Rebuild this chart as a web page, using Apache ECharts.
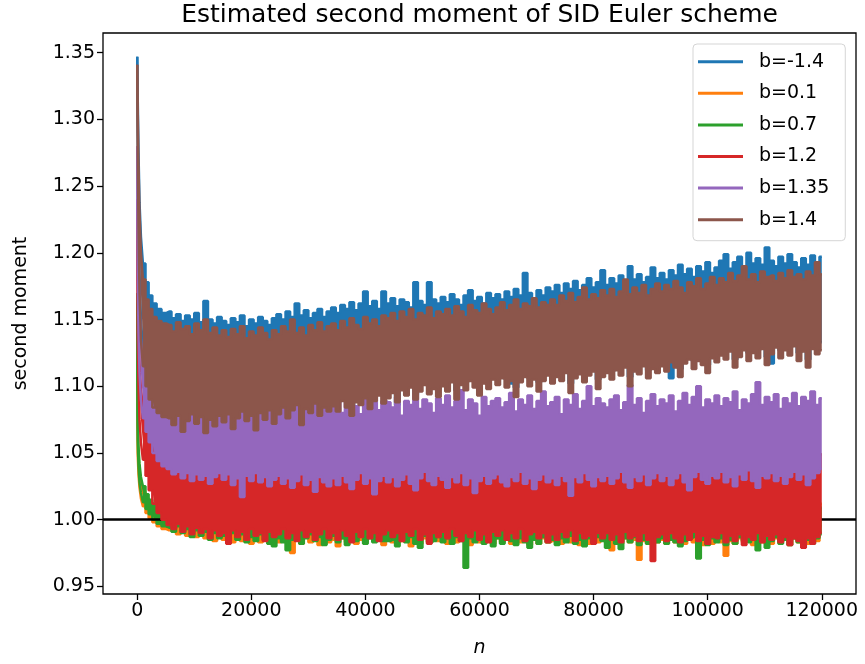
<!DOCTYPE html>
<html>
<head>
<meta charset="utf-8">
<script src="https://cdn.jsdelivr.net/npm/echarts@6/dist/echarts.min.js"></script>
<style>
  html, body { margin: 0; padding: 0; background: #fff; }
  #chart { width: 865px; height: 664px; }
</style>
</head>
<body>
<div id="chart"></div>
<script>
  // n grid: a few dense samples for the start-up transient, then one every 800 steps up to 120000
  const headSteps = [0, 150, 300, 500, 800, 1200, 1700, 2300, 3000, 3800, 4700];
  const bodyStart = 5600, bodyStep = 800, bodyCount = 144;

  const seriesNames = ['b=-1.4', 'b=0.1', 'b=0.7', 'b=1.2', 'b=1.35', 'b=1.4'];
  const xTicks = [0, 20000, 40000, 60000, 80000, 100000, 120000];
  const yTicks = [0.95, 1.00, 1.05, 1.10, 1.15, 1.20, 1.25, 1.30, 1.35];
  const refLevel = 1.0;

  // upper / lower envelope of each noisy estimate (max and min inside every sample bin)
  const blueHi = [1.347, 1.320, 1.275, 1.238, 1.212, 1.192, 1.178, 1.168, 1.162, 1.158, 1.155,
    1.156, 1.151, 1.154, 1.149, 1.153, 1.150, 1.155, 1.148, 1.164, 1.150, 1.147, 1.152,
    1.149, 1.146, 1.151, 1.148, 1.153, 1.145, 1.150, 1.147, 1.152, 1.149, 1.146, 1.151,
    1.154, 1.150, 1.156, 1.152, 1.162, 1.153, 1.157, 1.151, 1.155, 1.158, 1.152, 1.156,
    1.159, 1.155, 1.161, 1.158, 1.163, 1.157, 1.162, 1.171, 1.160, 1.164, 1.158, 1.171,
    1.162, 1.166, 1.160, 1.165, 1.163, 1.159, 1.178, 1.164, 1.161, 1.178, 1.165, 1.162,
    1.167, 1.163, 1.169, 1.165, 1.161, 1.168, 1.172, 1.164, 1.167, 1.162, 1.170, 1.166,
    1.169, 1.165, 1.171, 1.167, 1.173, 1.168, 1.185, 1.170, 1.166, 1.172, 1.168, 1.174,
    1.171, 1.176, 1.170, 1.177, 1.173, 1.179, 1.172, 1.176, 1.181, 1.174, 1.178, 1.187,
    1.176, 1.181, 1.177, 1.183, 1.179, 1.190, 1.180, 1.184, 1.178, 1.182, 1.189, 1.181,
    1.185, 1.180, 1.187, 1.183, 1.191, 1.184, 1.188, 1.182, 1.190, 1.186, 1.193, 1.185,
    1.189, 1.194, 1.199, 1.188, 1.193, 1.197, 1.190, 1.200, 1.192, 1.196, 1.191, 1.204,
    1.194, 1.190, 1.197, 1.192, 1.199, 1.193, 1.189, 1.196, 1.191, 1.198, 1.193, 1.197];
  const blueLo = [1.347, 1.290, 1.235, 1.185, 1.150, 1.128, 1.112, 1.100, 1.093, 1.088, 1.085,
    1.082, 1.079, 1.084, 1.076, 1.081, 1.085, 1.078, 1.083, 1.075, 1.081, 1.077, 1.084,
    1.080, 1.085, 1.077, 1.083, 1.087, 1.080, 1.084, 1.076, 1.086, 1.081, 1.088, 1.079,
    1.086, 1.090, 1.083, 1.078, 1.092, 1.081, 1.089, 1.086, 1.093, 1.085, 1.090, 1.087,
    1.091, 1.088, 1.095, 1.090, 1.086, 1.094, 1.092, 1.097, 1.089, 1.095, 1.099, 1.093,
    1.097, 1.101, 1.086, 1.103, 1.099, 1.105, 1.094, 1.102, 1.107, 1.100, 1.104, 1.098,
    1.106, 1.102, 1.109, 1.097, 1.107, 1.103, 1.110, 1.105, 1.100, 1.108, 1.104, 1.111,
    1.107, 1.112, 1.105, 1.102, 1.099, 1.109, 1.113, 1.106, 1.111, 1.103, 1.110, 1.114,
    1.108, 1.113, 1.110, 1.116, 1.102, 1.112, 1.115, 1.109, 1.114, 1.117, 1.105, 1.113,
    1.116, 1.111, 1.118, 1.114, 1.120, 1.107, 1.117, 1.115, 1.121, 1.112, 1.119, 1.116,
    1.121, 1.117, 1.106, 1.120, 1.113, 1.123, 1.126, 1.119, 1.125, 1.122, 1.116, 1.127,
    1.124, 1.129, 1.126, 1.132, 1.120, 1.128, 1.133, 1.125, 1.131, 1.127, 1.134, 1.122,
    1.117, 1.135, 1.127, 1.133, 1.129, 1.136, 1.125, 1.132, 1.120, 1.134, 1.130, 1.133];

  const orangeHi = [1.150, 1.070, 1.048, 1.036, 1.028, 1.021, 1.016, 1.013, 1.010, 1.008, 1.007,
    1.009, 1.006, 1.010, 1.007, 1.011, 1.005, 1.008, 1.010, 1.006, 1.009, 1.007, 1.011,
    1.005, 1.008, 1.012, 1.006, 1.009, 1.007, 1.010, 1.005, 1.008, 1.011, 1.006, 1.009,
    1.007, 1.011, 1.005, 1.008, 1.010, 1.006, 1.012, 1.007, 1.009, 1.005, 1.008, 1.010,
    1.006, 1.009, 1.007, 1.011, 1.005, 1.008, 1.010, 1.006, 1.009, 1.012, 1.007, 1.005,
    1.008, 1.010, 1.006, 1.009, 1.007, 1.011, 1.005, 1.008, 1.012, 1.006, 1.009, 1.007,
    1.010, 1.005, 1.008, 1.011, 1.006, 1.009, 1.007, 1.012, 1.005, 1.008, 1.010, 1.006,
    1.009, 1.007, 1.011, 1.005, 1.008, 1.010, 1.006, 1.009, 1.012, 1.007, 1.005, 1.008,
    1.010, 1.006, 1.009, 1.007, 1.011, 1.005, 1.008, 1.010, 1.006, 1.012, 1.009, 1.007,
    1.005, 1.008, 1.011, 1.006, 1.009, 1.007, 1.010, 1.005, 1.008, 1.012, 1.006, 1.009,
    1.007, 1.011, 1.005, 1.008, 1.010, 1.006, 1.009, 1.007, 1.012, 1.005, 1.008, 1.010,
    1.006, 1.009, 1.007, 1.011, 1.005, 1.008, 1.010, 1.006, 1.009, 1.012, 1.007, 1.005,
    1.008, 1.010, 1.006, 1.009, 1.007, 1.011, 1.005, 1.008, 1.010, 1.006, 1.009, 1.012];
  const orangeLo = [1.150, 1.050, 1.034, 1.024, 1.016, 1.010, 1.005, 1.001, 0.998, 0.995, 0.993,
    0.992, 0.995, 0.989, 0.993, 0.988, 0.991, 0.987, 0.990, 0.986, 0.989, 0.984, 0.988,
    0.985, 0.989, 0.983, 0.987, 0.984, 0.988, 0.982, 0.986, 0.983, 0.987, 0.984, 0.986,
    0.983, 0.987, 0.984, 0.975, 0.986, 0.982, 0.987, 0.983, 0.985, 0.981, 0.986, 0.983,
    0.985, 0.980, 0.986, 0.983, 0.987, 0.982, 0.985, 0.983, 0.988, 0.984, 0.986, 0.981,
    0.986, 0.983, 0.987, 0.984, 0.988, 0.980, 0.985, 0.982, 0.986, 0.983, 0.987, 0.984,
    0.985, 0.982, 0.986, 0.983, 0.987, 0.984, 0.981, 0.986, 0.983, 0.987, 0.984, 0.982,
    0.986, 0.983, 0.987, 0.982, 0.985, 0.983, 0.986, 0.981, 0.985, 0.982, 0.986, 0.983,
    0.984, 0.987, 0.982, 0.985, 0.983, 0.986, 0.981, 0.985, 0.982, 0.986, 0.983, 0.985,
    0.983, 0.977, 0.985, 0.982, 0.986, 0.983, 0.985, 0.970, 0.984, 0.982, 0.986, 0.983,
    0.985, 0.982, 0.986, 0.983, 0.987, 0.982, 0.985, 0.983, 0.986, 0.981, 0.985, 0.982,
    0.986, 0.983, 0.973, 0.984, 0.982, 0.986, 0.983, 0.985, 0.981, 0.986, 0.983, 0.985,
    0.982, 0.986, 0.983, 0.985, 0.981, 0.986, 0.983, 0.985, 0.982, 0.986, 0.984, 0.995];

  const greenHi = [1.170, 1.080, 1.055, 1.042, 1.032, 1.025, 1.019, 1.015, 1.012, 1.010, 1.009,
    1.010, 1.007, 1.011, 1.008, 1.012, 1.006, 1.009, 1.011, 1.007, 1.010, 1.008, 1.012,
    1.006, 1.010, 1.008, 1.011, 1.007, 1.009, 1.012, 1.006, 1.010, 1.008, 1.011, 1.007,
    1.009, 1.012, 1.006, 1.010, 1.008, 1.011, 1.007, 1.009, 1.013, 1.006, 1.010, 1.008,
    1.011, 1.007, 1.009, 1.012, 1.006, 1.010, 1.008, 1.011, 1.007, 1.009, 1.012, 1.006,
    1.010, 1.008, 1.011, 1.007, 1.009, 1.013, 1.006, 1.010, 1.008, 1.011, 1.007, 1.009,
    1.012, 1.006, 1.010, 1.008, 1.011, 1.007, 1.009, 1.012, 1.006, 1.010, 1.008, 1.011,
    1.007, 1.009, 1.013, 1.006, 1.010, 1.008, 1.011, 1.007, 1.009, 1.012, 1.006, 1.010,
    1.008, 1.011, 1.007, 1.009, 1.012, 1.006, 1.010, 1.008, 1.011, 1.007, 1.009, 1.013,
    1.006, 1.010, 1.008, 1.011, 1.007, 1.009, 1.012, 1.006, 1.010, 1.008, 1.011, 1.007,
    1.009, 1.012, 1.006, 1.010, 1.008, 1.011, 1.007, 1.009, 1.013, 1.006, 1.010, 1.008,
    1.011, 1.007, 1.009, 1.012, 1.006, 1.010, 1.008, 1.011, 1.007, 1.009, 1.012, 1.006,
    1.010, 1.008, 1.011, 1.007, 1.009, 1.012, 1.006, 1.010, 1.008, 1.011, 1.007, 1.009];
  const greenLo = [1.170, 1.060, 1.040, 1.028, 1.020, 1.013, 1.008, 1.004, 1.000, 0.997, 0.995,
    0.994, 0.991, 0.995, 0.990, 0.993, 0.987, 0.992, 0.988, 0.991, 0.985, 0.990, 0.986,
    0.988, 0.984, 0.990, 0.985, 0.989, 0.983, 0.987, 0.984, 0.989, 0.985, 0.982, 0.980,
    0.986, 0.983, 0.977, 0.985, 0.988, 0.982, 0.986, 0.989, 0.984, 0.987, 0.981, 0.985,
    0.988, 0.983, 0.986, 0.981, 0.987, 0.984, 0.989, 0.982, 0.986, 0.983, 0.988, 0.984,
    0.984, 0.985, 0.980, 0.986, 0.983, 0.987, 0.982, 0.979, 0.988, 0.983, 0.984, 0.987,
    0.983, 0.986, 0.982, 0.987, 0.984, 0.964, 0.986, 0.983, 0.988, 0.982, 0.985, 0.980,
    0.986, 0.982, 0.987, 0.984, 0.981, 0.986, 0.983, 0.979, 0.985, 0.982, 0.987, 0.983,
    0.985, 0.981, 0.986, 0.983, 0.988, 0.982, 0.985, 0.980, 0.986, 0.983, 0.987, 0.984,
    0.979, 0.985, 0.982, 0.978, 0.986, 0.983, 0.987, 0.981, 0.985, 0.982, 0.986, 0.983,
    0.986, 0.982, 0.985, 0.983, 0.980, 0.984, 0.986, 0.987, 0.971, 0.985, 0.981, 0.986,
    0.983, 0.986, 0.981, 0.985, 0.982, 0.987, 0.984, 0.983, 0.985, 0.977, 0.986, 0.979,
    0.984, 0.987, 0.982, 0.985, 0.981, 0.986, 0.983, 0.980, 0.985, 0.982, 0.986, 0.989];

  const redHi = [1.240, 1.180, 1.145, 1.118, 1.098, 1.085, 1.075, 1.066, 1.058, 1.052, 1.048,
    1.046, 1.042, 1.045, 1.041, 1.044, 1.040, 1.043, 1.041, 1.045, 1.040, 1.042, 1.044,
    1.042, 1.045, 1.040, 1.043, 1.039, 1.044, 1.041, 1.046, 1.040, 1.043, 1.039, 1.042,
    1.044, 1.040, 1.043, 1.039, 1.042, 1.045, 1.040, 1.043, 1.038, 1.044, 1.041, 1.039,
    1.043, 1.040, 1.045, 1.041, 1.038, 1.042, 1.046, 1.040, 1.043, 1.039, 1.041, 1.044,
    1.040, 1.044, 1.039, 1.042, 1.046, 1.040, 1.038, 1.043, 1.047, 1.041, 1.039, 1.044,
    1.042, 1.039, 1.044, 1.040, 1.046, 1.039, 1.043, 1.038, 1.041, 1.045, 1.040, 1.043,
    1.045, 1.041, 1.039, 1.044, 1.040, 1.047, 1.039, 1.043, 1.038, 1.042, 1.046, 1.040,
    1.043, 1.040, 1.045, 1.041, 1.038, 1.044, 1.040, 1.046, 1.042, 1.039, 1.044, 1.041,
    1.045, 1.040, 1.043, 1.047, 1.041, 1.039, 1.044, 1.041, 1.046, 1.040, 1.043, 1.047,
    1.041, 1.045, 1.039, 1.043, 1.047, 1.040, 1.038, 1.044, 1.048, 1.042, 1.039, 1.045,
    1.043, 1.047, 1.040, 1.044, 1.039, 1.046, 1.042, 1.048, 1.041, 1.038, 1.045, 1.043,
    1.047, 1.041, 1.045, 1.039, 1.044, 1.048, 1.042, 1.046, 1.039, 1.043, 1.047, 1.049];
  const redLo = [1.240, 1.140, 1.100, 1.075, 1.058, 1.045, 1.033, 1.022, 1.012, 1.005, 1.000,
    0.996, 0.993, 0.997, 0.991, 0.995, 0.989, 0.994, 0.990, 0.993, 0.986, 0.992, 0.988,
    0.990, 0.982, 0.992, 0.987, 0.991, 0.985, 0.993, 0.988, 0.990, 0.984, 0.991, 0.987,
    0.989, 0.993, 0.986, 0.990, 0.984, 0.992, 0.987, 0.991, 0.985, 0.989, 0.993, 0.986,
    0.990, 0.985, 0.992, 0.988, 0.983, 0.991, 0.987, 0.993, 0.986, 0.990, 0.984, 0.989,
    0.992, 0.987, 0.990, 0.984, 0.991, 0.988, 0.993, 0.985, 0.989, 0.982, 0.990, 0.987,
    0.991, 0.986, 0.993, 0.988, 0.984, 0.990, 0.987, 0.992, 0.985, 0.989, 0.983, 0.991,
    0.988, 0.992, 0.985, 0.990, 0.986, 0.993, 0.984, 0.989, 0.991, 0.986, 0.990, 0.983,
    0.989, 0.985, 0.991, 0.987, 0.992, 0.984, 0.990, 0.986, 0.988, 0.982, 0.990, 0.986,
    0.990, 0.985, 0.989, 0.983, 0.991, 0.986, 0.988, 0.984, 0.990, 0.985, 0.969, 0.987,
    0.989, 0.984, 0.990, 0.986, 0.983, 0.989, 0.985, 0.991, 0.984, 0.988, 0.982, 0.987,
    0.986, 0.990, 0.983, 0.988, 0.984, 0.989, 0.981, 0.987, 0.985, 0.990, 0.983, 0.988,
    0.985, 0.989, 0.983, 0.987, 0.981, 0.986, 0.984, 0.979, 0.986, 0.982, 0.987, 0.990];

  const purpleHi = [1.280, 1.230, 1.190, 1.160, 1.135, 1.118, 1.105, 1.097, 1.092, 1.089, 1.087,
    1.086, 1.083, 1.089, 1.084, 1.088, 1.082, 1.087, 1.085, 1.090, 1.083, 1.088, 1.084,
    1.087, 1.084, 1.089, 1.085, 1.091, 1.083, 1.088, 1.086, 1.090, 1.084, 1.089, 1.085,
    1.088, 1.085, 1.091, 1.086, 1.090, 1.084, 1.089, 1.087, 1.092, 1.085, 1.083, 1.090,
    1.086, 1.091, 1.080, 1.088, 1.093, 1.085, 1.079, 1.090, 1.087, 1.094, 1.082, 1.089,
    1.088, 1.084, 1.092, 1.078, 1.089, 1.086, 1.095, 1.083, 1.090, 1.087, 1.080, 1.091,
    1.086, 1.093, 1.084, 1.089, 1.097, 1.082, 1.090, 1.087, 1.078, 1.092, 1.085, 1.089,
    1.091, 1.084, 1.088, 1.095, 1.081, 1.090, 1.086, 1.093, 1.083, 1.089, 1.096, 1.085,
    1.088, 1.092, 1.079, 1.090, 1.086, 1.094, 1.083, 1.089, 1.100, 1.085, 1.091, 1.087,
    1.084, 1.090, 1.093, 1.082, 1.088, 1.101, 1.086, 1.091, 1.080, 1.089, 1.094, 1.085,
    1.090, 1.087, 1.093, 1.081, 1.089, 1.095, 1.086, 1.092, 1.100, 1.084, 1.090, 1.087,
    1.093, 1.085, 1.091, 1.088, 1.096, 1.082, 1.090, 1.087, 1.094, 1.103, 1.086, 1.092,
    1.088, 1.094, 1.083, 1.091, 1.087, 1.095, 1.085, 1.092, 1.089, 1.096, 1.086, 1.091];
  const purpleLo = [1.280, 1.190, 1.140, 1.110, 1.090, 1.076, 1.066, 1.058, 1.050, 1.044, 1.040,
    1.038, 1.034, 1.036, 1.031, 1.035, 1.029, 1.034, 1.030, 1.033, 1.027, 1.032, 1.035,
    1.030, 1.034, 1.026, 1.031, 1.017, 1.033, 1.029, 1.035, 1.028, 1.032, 1.025, 1.030,
    1.033, 1.027, 1.031, 1.024, 1.029, 1.034, 1.026, 1.030, 1.021, 1.032, 1.028, 1.025,
    1.031, 1.026, 1.033, 1.028, 1.023, 1.030, 1.035, 1.027, 1.031, 1.019, 1.029, 1.033,
    1.028, 1.032, 1.025, 1.030, 1.034, 1.027, 1.022, 1.031, 1.036, 1.029, 1.026, 1.033,
    1.030, 1.024, 1.032, 1.028, 1.035, 1.026, 1.031, 1.020, 1.029, 1.033, 1.027, 1.031,
    1.034, 1.028, 1.025, 1.032, 1.029, 1.036, 1.027, 1.031, 1.023, 1.030, 1.034, 1.028,
    1.031, 1.026, 1.033, 1.029, 1.018, 1.032, 1.028, 1.035, 1.030, 1.025, 1.032, 1.029,
    1.033, 1.027, 1.031, 1.036, 1.028, 1.024, 1.032, 1.029, 1.034, 1.026, 1.031, 1.035,
    1.029, 1.033, 1.026, 1.031, 1.035, 1.028, 1.022, 1.032, 1.036, 1.030, 1.027, 1.033,
    1.031, 1.036, 1.028, 1.032, 1.025, 1.034, 1.030, 1.037, 1.029, 1.024, 1.033, 1.031,
    1.035, 1.029, 1.033, 1.027, 1.032, 1.036, 1.030, 1.034, 1.026, 1.031, 1.035, 1.038];

  const brownHi = [1.341, 1.310, 1.265, 1.230, 1.200, 1.180, 1.165, 1.158, 1.152, 1.149, 1.147,
    1.146, 1.141, 1.148, 1.143, 1.145, 1.139, 1.147, 1.142, 1.150, 1.140, 1.144, 1.138,
    1.142, 1.137, 1.143, 1.139, 1.145, 1.136, 1.141, 1.138, 1.144, 1.140, 1.135, 1.142,
    1.139, 1.145, 1.141, 1.150, 1.140, 1.144, 1.138, 1.146, 1.142, 1.148, 1.141, 1.145,
    1.147, 1.142, 1.149, 1.144, 1.151, 1.146, 1.143, 1.152, 1.147, 1.150, 1.145, 1.153,
    1.151, 1.155, 1.149, 1.156, 1.152, 1.158, 1.150, 1.155, 1.153, 1.159, 1.151, 1.156,
    1.154, 1.158, 1.153, 1.160, 1.156, 1.152, 1.161, 1.157, 1.155, 1.162, 1.158, 1.154,
    1.159, 1.163, 1.157, 1.161, 1.165, 1.158, 1.162, 1.160, 1.166, 1.159, 1.163, 1.161,
    1.165, 1.161, 1.168, 1.164, 1.170, 1.163, 1.167, 1.174, 1.165, 1.169, 1.166, 1.172,
    1.168, 1.173, 1.167, 1.171, 1.180, 1.169, 1.174, 1.170, 1.176, 1.168, 1.173, 1.177,
    1.171, 1.176, 1.173, 1.179, 1.174, 1.170, 1.178, 1.175, 1.181, 1.173, 1.177, 1.182,
    1.176, 1.181, 1.178, 1.185, 1.179, 1.183, 1.190, 1.180, 1.184, 1.178, 1.186, 1.182,
    1.183, 1.179, 1.185, 1.181, 1.187, 1.182, 1.184, 1.180, 1.186, 1.183, 1.193, 1.184];
  const brownLo = [1.341, 1.280, 1.220, 1.170, 1.135, 1.115, 1.100, 1.090, 1.084, 1.080, 1.077,
    1.076, 1.071, 1.078, 1.066, 1.074, 1.079, 1.072, 1.077, 1.065, 1.075, 1.070, 1.078,
    1.073, 1.079, 1.068, 1.076, 1.081, 1.074, 1.078, 1.067, 1.080, 1.075, 1.082, 1.072,
    1.079, 1.084, 1.076, 1.082, 1.086, 1.071, 1.083, 1.080, 1.087, 1.078, 1.084, 1.081,
    1.085, 1.081, 1.089, 1.084, 1.078, 1.088, 1.086, 1.091, 1.083, 1.089, 1.093, 1.087,
    1.091, 1.095, 1.088, 1.097, 1.093, 1.099, 1.090, 1.096, 1.101, 1.094, 1.098, 1.092,
    1.100, 1.096, 1.103, 1.090, 1.101, 1.097, 1.104, 1.099, 1.093, 1.102, 1.098, 1.105,
    1.101, 1.106, 1.099, 1.104, 1.092, 1.103, 1.107, 1.100, 1.105, 1.096, 1.104, 1.108,
    1.102, 1.107, 1.104, 1.110, 1.095, 1.106, 1.109, 1.103, 1.108, 1.111, 1.098, 1.107,
    1.110, 1.105, 1.112, 1.108, 1.114, 1.100, 1.111, 1.109, 1.115, 1.106, 1.113, 1.110,
    1.115, 1.111, 1.118, 1.114, 1.107, 1.117, 1.120, 1.113, 1.119, 1.116, 1.110, 1.121,
    1.118, 1.123, 1.120, 1.126, 1.114, 1.122, 1.127, 1.119, 1.125, 1.121, 1.128, 1.116,
    1.124, 1.129, 1.121, 1.127, 1.123, 1.130, 1.119, 1.126, 1.114, 1.128, 1.124, 1.127];

  const colors = ['#1f77b4', '#ff7f0e', '#2ca02c', '#d62728', '#9467bd', '#8c564b'];
  const envelopes = [
    [blueHi, blueLo], [orangeHi, orangeLo], [greenHi, greenLo],
    [redHi, redLo], [purpleHi, purpleLo], [brownHi, brownLo]
  ];

  const nGrid = headSteps.slice();
  for (let i = 0; i < bodyCount; i++) nGrid.push(bodyStart + bodyStep * i);

  const font = 'DejaVu Sans';
  const series = [];
  envelopes.forEach(([hi, lo], i) => {
    const color = colors[i];
    // lower edge (stack base); each band gets its own z so later curves sit on top
    series.push({
      name: seriesNames[i] + ' low',
      type: 'line',
      z: 2 + i,
      stack: 'band' + i,
      encode: {x: 1, y: 0},
      data: nGrid.map((n, j) => [lo[j], n]),
      step: 'middle',
      symbol: 'none',
      lineStyle: {color: color, width: 2.5},
      silent: true
    });
    // band up to the upper edge
    series.push({
      name: seriesNames[i],
      type: 'line',
      z: 2 + i,
      stack: 'band' + i,
      encode: {x: 1, y: 0},
      data: nGrid.map((n, j) => [hi[j] - lo[j], n]),
      step: 'middle',
      symbol: 'none',
      color: color,
      lineStyle: {color: color, width: 2.5},
      areaStyle: {color: color, opacity: 1},
      silent: true
    });
  });

  series[series.length - 1].markLine = {
    silent: true,
    symbol: 'none',
    label: {show: false},
    lineStyle: {color: '#000', width: 2.5, type: 'solid'},
    data: [{yAxis: refLevel}]
  };

  const chart = echarts.init(document.getElementById('chart'));
  chart.setOption({
    animation: false,
    backgroundColor: '#fff',
    grid: {left: 103, right: 9, top: 33, bottom: 70, show: true, borderColor: '#000', borderWidth: 1.3, z: 30},
    graphic: [{
      type: 'text',
      x: 479.5,
      y: 15.5,
      style: {
        text: 'Estimated second moment of SID Euler scheme',
        font: '25px "DejaVu Sans"',
        fill: '#000',
        align: 'center',
        verticalAlign: 'middle'
      }
    }],
    legend: {
      z: 50,
      data: seriesNames.map(name => ({name: name, icon: 'rect'})),
      orient: 'vertical',
      left: 693,
      top: 44,
      itemWidth: 45,
      itemHeight: 3,
      itemGap: 11.6,
      padding: [7.7, 16, 11, 5],
      borderColor: '#d5d5d5',
      borderWidth: 1,
      borderRadius: 4,
      backgroundColor: 'rgba(255,255,255,0.8)',
      selectedMode: false,
      textStyle: {fontFamily: font, fontSize: 19, color: '#000', lineHeight: 20, padding: [0, 0, 0, 11]}
    },
    xAxis: {
      type: 'value',
      min: -6000,
      max: 126000,
      name: 'n',
      nameLocation: 'middle',
      nameGap: 45,
      nameTextStyle: {fontFamily: font, fontSize: 19, fontStyle: 'italic', color: '#000'},
      axisLine: {show: false, onZero: false},
      splitLine: {show: false},
      axisTick: {show: true, customValues: xTicks, length: 6, lineStyle: {color: '#000', width: 1.3}},
      axisLabel: {customValues: xTicks, margin: 8, fontFamily: font, fontSize: 19, color: '#000',
        formatter: v => String(v)}
    },
    yAxis: {
      type: 'value',
      min: 0.9443,
      max: 1.3648,
      name: 'second moment',
      nameLocation: 'middle',
      nameGap: 72,
      nameTextStyle: {fontFamily: font, fontSize: 19, color: '#000'},
      axisLine: {show: false, onZero: false},
      splitLine: {show: false},
      axisTick: {show: true, customValues: yTicks, length: 6, lineStyle: {color: '#000', width: 1.3}},
      axisLabel: {customValues: yTicks, margin: 8, fontFamily: font, fontSize: 19, color: '#000',
        formatter: v => v.toFixed(2)}
    },
    series: series
  });
</script>
</body>
</html>
